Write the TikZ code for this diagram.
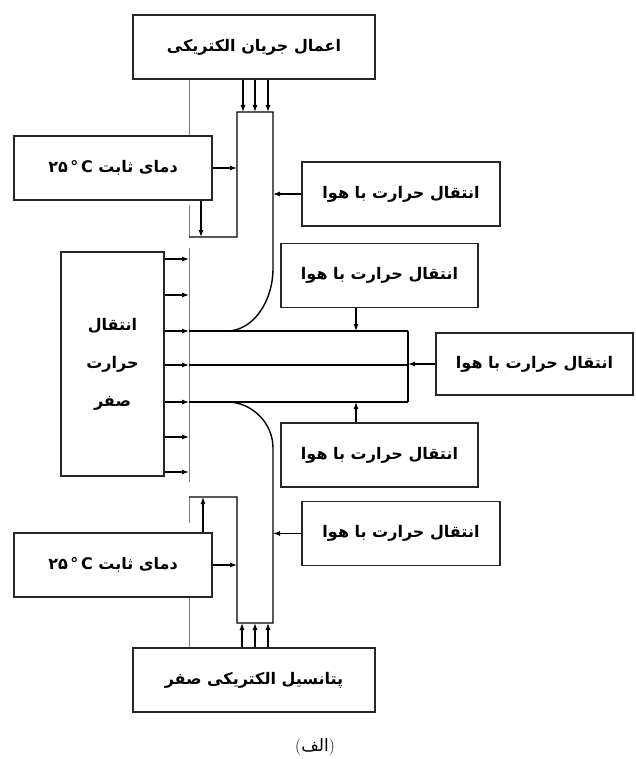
\documentclass[tikz,border=0pt]{standalone}
\usepackage{fontspec}
\newfontfamily\farsi[Script=Arabic]{DejaVu Sans}
\TeXXeTstate=1
\usetikzlibrary{arrows.meta}
\newcommand{\fa}[1]{\beginR #1\endR}
\tikzset{
  box/.style={draw=black!85, line width=1.1pt, inner sep=0pt, minimum height=64pt,
    font=\farsi\bfseries\fontsize{16}{19}\selectfont},
  wall/.style={line width=1.4pt},
  rail/.style={gray, line width=0.8pt},
  flow/.style={->, line width=1.1pt},
}

\begin{document}
\begin{tikzpicture}[x=1pt, y=-1pt, >={Latex[length=7pt,width=5pt]}]
\useasboundingbox (0,0) rectangle (635,759);
\node[box, minimum width=242pt] (current) at (254,47) {\fa{اعمال جریان الکتریکی}};
\node[box, minimum width=242pt] (potential) at (254,680) {\fa{پتانسیل الکتریکی صفر}};
\node[box, minimum width=198pt] (tempA) at (113,168) {\fa{دمای ثابت \beginL ۲۵\,°\,C\endL}};
\node[box, minimum width=198pt] (tempB) at (113,565) {\fa{دمای ثابت \beginL ۲۵\,°\,C\endL}};
\node[box, minimum width=103pt, minimum height=224pt, align=center] (zero) at (112.5,364)
    {\fa{انتقال}\\[19pt]\fa{حرارت}\\[19pt]\fa{صفر}};
\node[box, minimum width=198pt] (airA) at (401,194) {\fa{انتقال حرارت با هوا}};
\node[box, minimum width=197pt] (airB) at (379.5,275.5) {\fa{انتقال حرارت با هوا}};
\node[box, minimum width=197pt, minimum height=62pt] (airC) at (534.5,364) {\fa{انتقال حرارت با هوا}};
\node[box, minimum width=197pt] (airD) at (379.5,455) {\fa{انتقال حرارت با هوا}};
\node[box, minimum width=198pt] (airE) at (401,533.5) {\fa{انتقال حرارت با هوا}};
\node[font=\fontsize{17}{20}\selectfont] (caption) at (315,747) {(\farsi\fa{الف}\normalfont)};
\coordinate (rail) at (189,0);
\coordinate (colL) at (237,0);
\coordinate (colR) at (273,0);
\coordinate (stripR) at (408,0);
% thin rail
\draw[rail] (current.south -| rail) -- (tempA.north -| rail);
\draw[rail] (rail |- 0,205) -- (rail |- 0,237);
\draw[rail] (rail |- 0,248) -- (rail |- 0,482);
\draw[rail] (rail |- 0,497) -- (rail |- 0,523);
\draw[rail] (tempB.south -| rail) -- (potential.north -| rail);
% body
\draw[wall] (rail |- 0,237) -- (colL |- 0,237) -- (colL |- 0,112) -- (colR |- 0,112) -- (colR |- 0,268)
    .. controls (273,303) and (252,331) .. (227,331);
\draw[wall] (227,402) .. controls (252,402) and (273,423) .. (273,448)
    -- (colR |- 0,623) -- (colL |- 0,623) -- (colL |- 0,497) -- (rail |- 0,497);
\foreach \y in {331,365,402}
  \draw[wall] (rail |- 0,\y) -- (stripR |- 0,\y);
\draw[wall] (stripR |- 0,331) -- (stripR |- 0,402);
% arrows
\foreach \x in {243,255,268}
  \draw[flow] (current.south -| \x,0) -- (\x,112);
\foreach \x in {242,255,268}
  \draw[flow] (potential.north -| \x,0) -- (\x,623);
\foreach \y in {259,295,331,365,402,437,472}
  \draw[flow] (zero.east |- 0,\y) -- (rail |- 0,\y);
\draw[flow] (tempA.east) -- (colL |- tempA.east);
\draw[flow] (tempA.south -| 201,0) -- (201,237);
\draw[flow] (tempB.east) -- (colL |- tempB.east);
\draw[flow] (tempB.north -| 203,0) -- (203,497);
\draw[flow] (airA.west) -- (colR |- airA.west);
\draw[flow] (airB.south -| 356,0) -- (356,331);
\draw[flow] (airC.west) -- (stripR |- airC.west);
\draw[flow] (airD.north -| 356,0) -- (356,402);
\draw[flow] (airE.west) -- (colR |- airE.west);
\end{tikzpicture}
\end{document}
